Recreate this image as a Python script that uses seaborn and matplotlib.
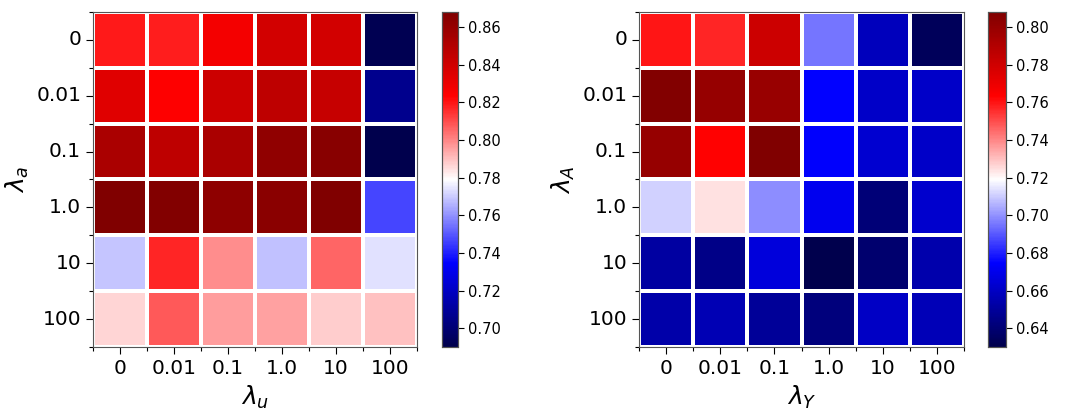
import numpy as np
import pandas as pd
import matplotlib
matplotlib.use('Agg')
import matplotlib.pyplot as plt
import seaborn as sns

# Tick labels (regularisation weights)
lambda_labels = ['0', '0.01', '0.1', '1.0', '10', '100']

# Left heatmap: rows = lambda_a, cols = lambda_u
left_vals = [
    [0.819, 0.818, 0.827, 0.839, 0.839, 0.692],
    [0.834, 0.824, 0.841, 0.846, 0.843, 0.706],
    [0.853, 0.846, 0.853, 0.862, 0.865, 0.690],
    [0.868, 0.867, 0.863, 0.864, 0.868, 0.747],
    [0.769, 0.817, 0.799, 0.768, 0.806, 0.774],
    [0.786, 0.808, 0.796, 0.795, 0.788, 0.790],
]

# Right heatmap: rows = lambda_A, cols = lambda_Y
right_vals = [
    [0.760, 0.757, 0.781, 0.695, 0.658, 0.634],
    [0.807, 0.800, 0.799, 0.675, 0.661, 0.661],
    [0.800, 0.7635, 0.808, 0.674, 0.663, 0.661],
    [0.711, 0.724, 0.699, 0.671, 0.641, 0.662],
    [0.651, 0.645, 0.666, 0.630, 0.639, 0.654],
    [0.653, 0.656, 0.649, 0.642, 0.660, 0.657],
]

fig = plt.figure(figsize=(10.8, 4.15), dpi=100)

W, H = 1080, 415
def rect(x0, x1, y0, y1):
    return [x0 / W, 1 - y1 / H, (x1 - x0) / W, (y1 - y0) / H]

panels = [
    (left_vals, r'$\lambda_u$', r'$\lambda_a$', rect(93, 417, 12, 347), rect(442, 458, 12, 347)),
    (right_vals, r'$\lambda_Y$', r'$\lambda_A$', rect(639, 964, 12, 347), rect(988, 1006, 12, 347)),
]

for vals, xlab, ylab, ax_rect, cb_rect in panels:
    ax = fig.add_axes(ax_rect)
    cax = fig.add_axes(cb_rect)
    df = pd.DataFrame(vals, index=lambda_labels, columns=lambda_labels)
    sns.heatmap(df, ax=ax, cbar_ax=cax, cmap='seismic', linewidths=1.5,
                linecolor='white', square=False)
    ax.set_yticklabels(lambda_labels, rotation=0, fontsize=14.5)
    ax.set_xticklabels(lambda_labels, rotation=0, fontsize=14.5)
    ax.set_xlabel(xlab, fontsize=18)
    ax.set_ylabel(ylab, fontsize=18)
    ax.tick_params(axis='both', which='major', length=5, width=0.8)
    n = len(lambda_labels)
    ax.set_xticks(np.arange(n + 1), minor=True)
    ax.set_yticks(np.arange(n + 1), minor=True)
    ax.tick_params(which='minor', length=3, width=0.8)
    for sp in ax.spines.values():
        sp.set_visible(True)
        sp.set_color('#555555')
        sp.set_linewidth(0.8)
    cax.yaxis.set_major_locator(matplotlib.ticker.MultipleLocator(0.02))
    cax.yaxis.set_major_formatter(matplotlib.ticker.FormatStrFormatter('%.2f'))
    cax.tick_params(labelsize=10.5, length=4, width=0.8)
    for sp in cax.spines.values():
        sp.set_visible(True)
        sp.set_color('#555555')
        sp.set_linewidth(0.8)

fig.savefig('out.png', dpi=100)
